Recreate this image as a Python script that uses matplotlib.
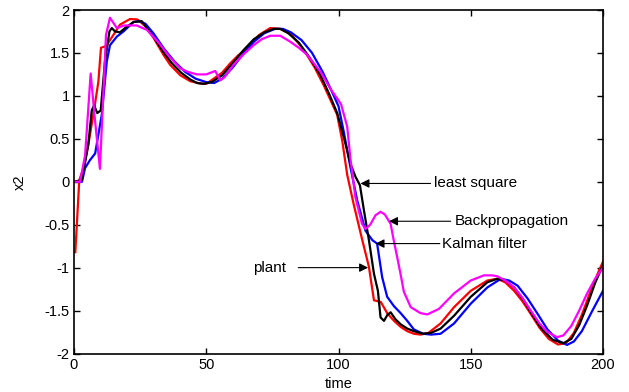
import matplotlib
matplotlib.use("Agg")
import matplotlib.pyplot as plt
from matplotlib.ticker import FuncFormatter

plt.rcParams['font.family'] = ['Liberation Sans', 'DejaVu Sans']
plt.rcParams['axes.unicode_minus'] = False

# plant (red)
t_plant = [0.5, 2, 3.5, 5.5, 7.3, 9.2, 10.2, 12.1, 13, 14.9, 17.4, 21.2, 24, 27, 30, 33.8, 36.4, 40.2, 44, 47.7,
           50, 52.8, 56, 59.1, 62, 65.4, 70, 74.2, 78, 82, 86, 88.1, 91, 94.4, 97, 99.5, 101.4, 103.3, 105.8, 109,
           111.5, 113.4, 116, 118.4, 121, 123.5, 126, 128.5, 131, 134, 138.6, 143.7, 150, 156.3, 160, 163, 166.4,
           169.5, 172.7, 176, 179.5, 183, 186, 189, 192, 195, 198, 200]
y_plant = [-0.82, 0.02, 0.15, 0.45, 0.78, 1.16, 1.56, 1.58, 1.62, 1.71, 1.83, 1.895, 1.89, 1.81, 1.68, 1.48,
           1.36, 1.24, 1.17, 1.145, 1.14, 1.20, 1.27, 1.38, 1.47, 1.55, 1.71, 1.79, 1.78, 1.72, 1.57, 1.475, 1.33,
           1.125, 0.95, 0.78, 0.48, 0.08, -0.27, -0.68, -0.99, -1.38, -1.40, -1.53, -1.62, -1.69, -1.74, -1.77,
           -1.78, -1.76, -1.65, -1.46, -1.27, -1.15, -1.13, -1.17, -1.27, -1.39, -1.54, -1.70, -1.83, -1.895,
           -1.88, -1.76, -1.55, -1.30, -1.07, -0.93]

# least square (black)
t_ls = [0, 3, 5.4, 6.7, 7.6, 8.8, 10.1, 11.7, 13.4, 14.3, 15.5, 17.4, 19.3, 22.5, 25.6, 30, 33.8, 37, 40.5, 44,
        46.5, 49, 52, 56, 60, 64, 68, 72, 75.5, 78, 81, 85, 89, 93.2, 96.5, 99.5, 102, 104.5, 106.4, 108.1, 109.6,
        111.5, 113.4, 114.9, 115.9, 117.2, 118.5, 119.7, 121.5, 123.5, 126, 128.5, 132, 135, 138.6, 143.7, 150,
        156.3, 160, 163, 166.4, 170, 173.5, 177, 181, 185, 188, 191, 194, 197, 200]
y_ls = [0, 0.02, 0.43, 0.83, 0.89, 0.80, 0.83, 1.40, 1.75, 1.79, 1.75, 1.74, 1.79, 1.86, 1.87, 1.69, 1.51, 1.38,
        1.27, 1.19, 1.15, 1.14, 1.16, 1.24, 1.38, 1.53, 1.66, 1.74, 1.78, 1.78, 1.73, 1.62, 1.45, 1.24, 1.02, 0.80,
        0.52, 0.21, 0.06, -0.04, -0.33, -0.68, -1.07, -1.27, -1.58, -1.62, -1.55, -1.52, -1.60, -1.66, -1.71,
        -1.74, -1.77, -1.76, -1.71, -1.56, -1.34, -1.17, -1.13, -1.15, -1.23, -1.38, -1.56, -1.72, -1.84, -1.88,
        -1.83, -1.67, -1.44, -1.18, -0.97]

# Kalman filter (blue)
t_kf = [0, 3, 4.2, 6, 8, 10.5, 12.4, 13.6, 16.2, 18.7, 22.5, 24.7, 27, 30, 34, 38, 42, 46, 50, 53, 56, 60, 64,
        68, 72, 76, 79, 82, 86, 90, 94, 97.5, 100, 102, 104.5, 107.1, 110.2, 112.8, 114.6, 116.5, 118.4, 121,
        123.5, 126, 128.5, 132, 135, 138.6, 143.7, 150, 156.3, 161.4, 164.5, 167.7, 171.5, 175.3, 179, 183,
        186.4, 189, 192, 196, 200]
y_kf = [0, 0.0, 0.16, 0.25, 0.33, 0.78, 1.40, 1.59, 1.69, 1.75, 1.86, 1.87, 1.84, 1.73, 1.55, 1.40, 1.28, 1.20,
        1.16, 1.15, 1.20, 1.33, 1.49, 1.63, 1.73, 1.78, 1.78, 1.74, 1.65, 1.50, 1.28, 1.05, 0.88, 0.58, 0.17,
        -0.22, -0.57, -0.68, -0.72, -1.11, -1.34, -1.45, -1.53, -1.62, -1.72, -1.77, -1.78, -1.77, -1.65, -1.42,
        -1.23, -1.13, -1.15, -1.21, -1.36, -1.54, -1.72, -1.85, -1.90, -1.86, -1.74, -1.50, -1.27]

# Backpropagation (magenta)
t_bp = [0, 2.3, 4.2, 6.3, 8, 9.8, 12.1, 13.6, 16.2, 19, 23.7, 27.5, 32, 36, 40.2, 43, 46.5, 50, 53.4, 55.3, 57,
        60.3, 64, 67.9, 71, 74.2, 78, 81.8, 85, 88.1, 93.2, 97, 99.5, 101, 103.3, 104.5, 106.4, 108.9, 110.2, 112,
        114, 115.9, 117.5, 119.7, 121, 122.2, 123.5, 124.7, 127.3, 131, 133.6, 138, 143.7, 150, 155, 158, 160,
        163, 166.4, 169.5, 172.7, 176, 179, 182.6, 185, 188, 191, 194, 197, 200]
y_bp = [0, 0, 0.31, 1.26, 0.70, 0.15, 1.71, 1.91, 1.79, 1.82, 1.82, 1.77, 1.62, 1.46, 1.32, 1.28, 1.25, 1.25,
        1.29, 1.18, 1.22, 1.36, 1.48, 1.59, 1.66, 1.70, 1.70, 1.63, 1.56, 1.48, 1.28, 1.08, 0.97, 0.90, 0.64, 0.27,
        -0.18, -0.49, -0.55, -0.50, -0.39, -0.35, -0.38, -0.49, -0.70, -0.88, -1.08, -1.28, -1.46, -1.53, -1.545,
        -1.48, -1.30, -1.15, -1.09, -1.09, -1.10, -1.15, -1.23, -1.35, -1.50, -1.65, -1.75, -1.81, -1.79, -1.68,
        -1.50, -1.30, -1.13, -1.00]

x_ticks = [0, 50, 100, 150, 200]
y_ticks = [-2, -1.5, -1, -0.5, 0, 0.5, 1, 1.5, 2]

fig = plt.figure(figsize=(6.29, 3.92), dpi=100)
ax = fig.add_axes([74 / 629, 1 - 353.5 / 392, (603 - 74) / 629, (353.5 - 10) / 392])

lw = 1.6
ax.plot(t_plant, y_plant, color='#ff0000', lw=lw)
ax.plot(t_kf, y_kf, color='#0000ff', lw=lw)
ax.plot(t_ls, y_ls, color='#000000', lw=lw)
ax.plot(t_bp, y_bp, color='#ff00ff', lw=lw)

ax.set_xlim(0, 200)
ax.set_ylim(-2, 2)
ax.set_xticks(x_ticks)
ax.set_yticks(y_ticks)
ax.yaxis.set_major_formatter(FuncFormatter(lambda v, p: '%g' % v))
ax.xaxis.set_major_formatter(FuncFormatter(lambda v, p: '%g' % v))
ax.tick_params(direction='in', top=True, right=True, length=4.5, width=1, labelsize=10.5, pad=3)
for s in ax.spines.values():
    s.set_linewidth(1.2)

ax.set_xlabel('time', fontsize=10.5, labelpad=4)
ax.set_ylabel('x2', fontsize=10.5, labelpad=13)

arrow = dict(arrowstyle='-|>', color='k', lw=0.8, mutation_scale=13, shrinkA=0, shrinkB=0)
fs = 11
ax.annotate('', xy=(108.3, -0.02), xytext=(134.8, -0.02), arrowprops=arrow)
ax.text(136.1, -0.02, 'least square', fontsize=fs, va='center', ha='left')
ax.annotate('', xy=(119.1, -0.46), xytext=(142.4, -0.46), arrowprops=arrow)
ax.text(143.9, -0.46, 'Backpropagation', fontsize=fs, va='center', ha='left')
ax.annotate('', xy=(114.0, -0.72), xytext=(138.3, -0.72), arrowprops=arrow)
ax.text(139.3, -0.72, 'Kalman filter', fontsize=fs, va='center', ha='left')
ax.annotate('', xy=(111.2, -1.0), xytext=(84.8, -1.0), arrowprops=arrow)
ax.text(67.8, -1.0, 'plant', fontsize=fs, va='center', ha='left')

fig.savefig('out.png', dpi=100)
